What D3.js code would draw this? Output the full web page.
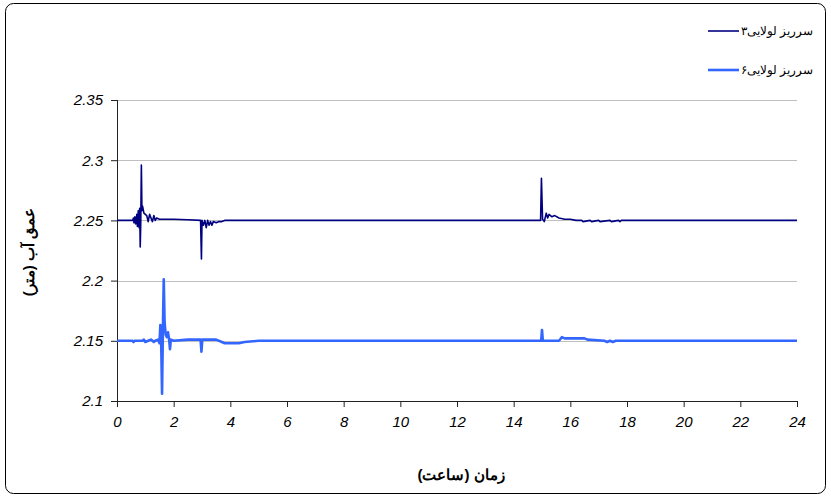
<!DOCTYPE html>
<html>
<head>
<meta charset="utf-8">
<script src="https://cdnjs.cloudflare.com/ajax/libs/d3/7.8.5/d3.min.js"></script>
<style>
  body { margin: 0; background: #fff; }
</style>
</head>
<body>
<div id="chart"></div>
<script>
// series names and tick labels
const seriesNames = ["سرریز لولایی۳", "سرریز لولایی۶"];
const xTicks = [0, 2, 4, 6, 8, 10, 12, 14, 16, 18, 20, 22, 24];
const yTicks = [2.1, 2.15, 2.2, 2.25, 2.3, 2.35];

// series 3 (dark navy) - time (h), depth (m)
const t3 = [0, 0.55, 0.58, 0.6, 0.63, 0.66, 0.7, 0.72, 0.75, 0.78, 0.8, 0.82, 0.84, 0.86, 0.88, 0.9, 0.95, 1.0, 1.05, 1.1,
  1.15, 1.2, 1.25, 1.3, 1.35, 1.4, 1.5, 1.6, 2.0, 2.5, 2.95, 2.98, 3.0, 3.05, 3.1, 3.15, 3.2, 3.25, 3.3, 3.35,
  3.4, 3.5, 3.6, 3.7, 3.8, 14.95, 14.98, 15.02, 15.08, 15.15, 15.2, 15.25, 15.35, 15.45, 15.6, 15.8, 16.0, 16.2, 16.4, 16.45,
  16.7, 16.75, 17.0, 17.05, 17.4, 17.45, 17.7, 17.75, 17.8, 24];
const v3 = [2.25, 2.25, 2.252, 2.248, 2.253, 2.247, 2.255, 2.245, 2.258, 2.244, 2.26, 2.228, 2.25, 2.296, 2.258, 2.262, 2.256, 2.255, 2.254, 2.249,
  2.255, 2.252, 2.249, 2.254, 2.25, 2.252, 2.251, 2.251, 2.251, 2.2505, 2.25, 2.218, 2.25, 2.246, 2.25, 2.244, 2.25, 2.246, 2.249, 2.246,
  2.249, 2.248, 2.249, 2.249, 2.25, 2.25, 2.285, 2.251, 2.249, 2.256, 2.252, 2.255, 2.253, 2.254, 2.252, 2.251, 2.251, 2.25, 2.25, 2.249,
  2.25, 2.249, 2.25, 2.249, 2.25, 2.249, 2.25, 2.249, 2.25, 2.25];

// series 6 (bright blue)
const t6 = [0, 0.55, 0.58, 0.62, 0.9, 0.95, 1.0, 1.1, 1.2, 1.3, 1.35, 1.45, 1.5, 1.53, 1.56, 1.59, 1.62, 1.65, 1.68, 1.72,
  1.76, 1.8, 1.84, 1.87, 1.9, 2.0, 2.5, 2.95, 2.98, 3.01, 3.5, 3.7, 3.8, 4.0, 4.3, 4.5, 5.0, 14.97, 15.0, 15.03,
  15.6, 15.7, 15.8, 16.5, 16.6, 17.2, 17.3, 17.4, 17.5, 17.6, 24];
const v6 = [2.15, 2.15, 2.149, 2.15, 2.15, 2.151, 2.149, 2.15, 2.151, 2.149, 2.15, 2.151, 2.148, 2.163, 2.148, 2.106, 2.16, 2.201, 2.165, 2.155,
  2.153, 2.157, 2.151, 2.143, 2.151, 2.15, 2.151, 2.151, 2.141, 2.151, 2.151, 2.149, 2.148, 2.148, 2.148, 2.149, 2.15, 2.15, 2.159, 2.15,
  2.15, 2.153, 2.152, 2.152, 2.151, 2.15, 2.149, 2.15, 2.149, 2.15, 2.15];

const W = 831, H = 498;
const margin = { top: 100, right: 34, bottom: 97, left: 117 };
const width = W - margin.left - margin.right;
const height = H - margin.top - margin.bottom;

const svg = d3.select("#chart").append("svg")
  .attr("width", W).attr("height", H);

// outer frame
svg.append("rect")
  .attr("x", 5.5).attr("y", 3.5)
  .attr("width", 820).attr("height", 490)
  .attr("rx", 8)
  .attr("fill", "#fff").attr("stroke", "#000");

const g = svg.append("g").attr("transform", `translate(${margin.left},${margin.top})`);

const x = d3.scaleLinear().domain([0, 24]).range([0, width]);
const y = d3.scaleLinear().domain([2.1, 2.35]).range([height, 0]);

// gridlines
g.append("g").selectAll("line")
  .data(yTicks.slice(1))
  .enter().append("line")
  .attr("x1", 0).attr("x2", width)
  .attr("y1", d => Math.round(y(d)) + 0.5).attr("y2", d => Math.round(y(d)) + 0.5)
  .attr("stroke", "#c0c0c0");

// axes
const yAxis = g.append("g")
  .call(d3.axisLeft(y).tickValues(yTicks).tickSize(6).tickPadding(8).tickFormat(d => String(d)));
const xAxis = g.append("g")
  .attr("transform", `translate(0,${height})`)
  .call(d3.axisBottom(x).tickValues(xTicks).tickSize(6).tickPadding(9).tickFormat(d => String(d)));

[xAxis, yAxis].forEach(a => {
  a.attr("font-family", "Liberation Sans")
    .attr("font-size", 15)
    .attr("font-style", "italic");
  a.selectAll(".tick line").attr("stroke", "#222");
  a.selectAll(".tick text").attr("fill", "#000");
});
yAxis.select(".domain").attr("stroke", "#222").attr("d", `M0.5,0V${height}`);
xAxis.select(".domain").attr("stroke", "#222").attr("d", `M0,0.5H${width}`);

// lines
const line = d3.line().x(d => x(d[0])).y(d => y(d[1]));
const s3 = t3.map((t, i) => [t, v3[i]]);
const s6 = t6.map((t, i) => [t, v6[i]]);

g.append("path").datum(s6)
  .attr("d", line).attr("fill", "none")
  .attr("stroke", "#3366ff").attr("stroke-width", 2.6)
  .attr("stroke-linejoin", "round");

g.append("path").datum(s3)
  .attr("d", line).attr("fill", "none")
  .attr("stroke", "#000080").attr("stroke-width", 1.6)
  .attr("stroke-linejoin", "round");

// axis titles
svg.append("text")
  .attr("x", 461).attr("y", 480)
  .attr("text-anchor", "middle")
  .attr("font-family", "Liberation Sans")
  .attr("font-weight", "bold")
  .attr("font-size", 15)
  .text("زمان (ساعت)");

svg.append("text")
  .attr("transform", "translate(34,252) rotate(-90)")
  .attr("text-anchor", "middle")
  .attr("font-family", "Liberation Sans")
  .attr("font-weight", "bold")
  .attr("font-size", 15)
  .text("عمق آب (متر)");

// legend
const legend = svg.append("g");
const legColors = ["#000080", "#3366ff"];
const legWidths = [1.6, 2.6];
seriesNames.forEach((name, i) => {
  const ly = 31 + i * 39;
  legend.append("line")
    .attr("x1", 708).attr("x2", 739)
    .attr("y1", ly).attr("y2", ly)
    .attr("stroke", legColors[i]).attr("stroke-width", legWidths[i]);
  legend.append("text")
    .attr("x", 741).attr("y", ly + 4)
    .attr("font-family", "Liberation Sans")
    .attr("font-size", 12)
    .text(name);
});
</script>
</body>
</html>
